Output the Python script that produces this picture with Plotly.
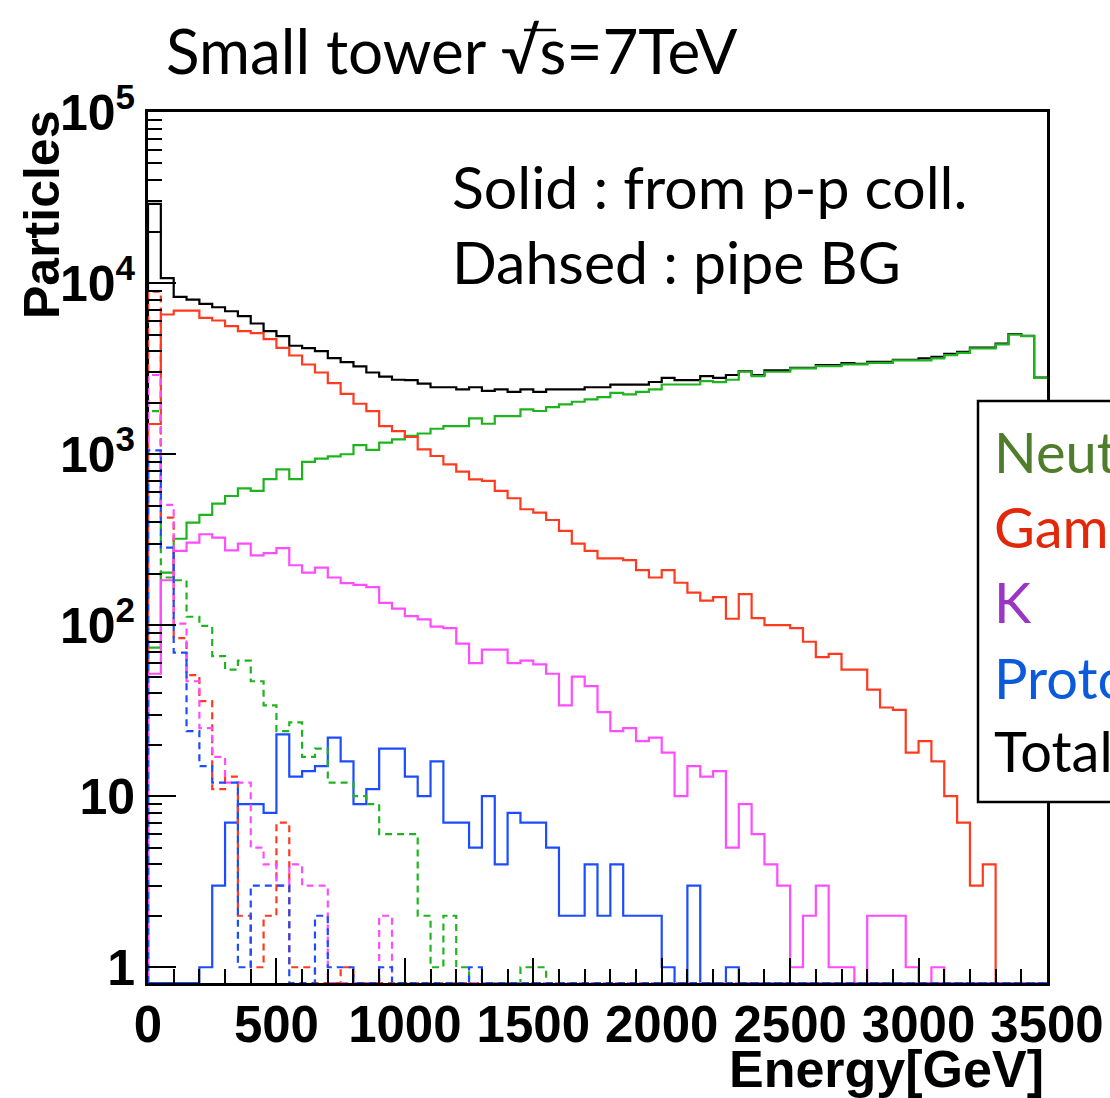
import plotly.graph_objects as go

# ---------------- data (bins of 50 GeV, 0-3500 GeV) ----------------
bin_edges = list(range(0, 3501, 50))

total = [29000, 10700, 8300, 8000, 7550, 7220, 6840, 6400, 5800, 5230,
         4890, 4300, 4170, 4000, 3640, 3450, 3260, 3000, 2840, 2720,
         2710, 2580, 2460, 2460, 2390, 2460, 2340, 2390, 2310, 2390,
         2310, 2390, 2390, 2390, 2460, 2460, 2550, 2550, 2550, 2640,
         2790, 2710, 2710, 2860, 2790, 2900, 3050, 2900, 3085, 3085,
         3190, 3190, 3310, 3310, 3400, 3370, 3460, 3460, 3560, 3560,
         3625, 3700, 3850, 3960, 4200, 4200, 4420, 5030, 4920, 2800]

neutron_pp = [74, 203, 320, 398, 441, 514, 569, 631, 609, 715,
              815, 715, 900, 940, 970, 998, 1130, 1060, 1166, 1220,
              1280, 1320, 1407, 1459, 1459, 1618, 1505, 1668, 1668, 1825,
              1786, 1884, 1953, 2024, 2089, 2155, 2282, 2232, 2312, 2388,
              2553, 2553, 2553, 2671, 2637, 2720, 3030, 2857, 3030, 3030,
              3168, 3168, 3268, 3268, 3344, 3344, 3418, 3418, 3530, 3530,
              3530, 3625, 3790, 3910, 4150, 4150, 4380, 5004, 4895, 2794]

gamma_pp = [1500, 6550, 6900, 6900, 6260, 6040, 5600, 5230, 5100, 4700,
            4180, 3770, 3340, 3000, 2600, 2250, 1970, 1785, 1459, 1364,
            1259, 1066, 975, 872, 789, 712, 697, 609, 552, 476,
            455, 412, 356, 300, 272, 246, 246, 240, 210, 190,
            210, 177, 155, 139, 146, 109, 152, 110, 100, 100,
            96, 80, 65, 68, 55, 55, 42, 33, 32, 18,
            21, 16, 10, 7, 3, 4, 0, 0, 0, 0]

kaon_pp = [52, 183, 272, 304, 340, 325, 274, 300, 256, 264,
           282, 224, 203, 217, 190, 176, 172, 167, 135, 125,
           113, 108, 98, 96, 78, 60, 72, 72, 60, 62,
           59, 52, 34, 50, 44, 31, 24, 25, 21, 22,
           18, 10, 15, 13, 14, 5, 9, 6, 4, 3,
           1, 2, 3, 1, 1, 0, 2, 2, 2, 1,
           0, 1, 0, 0, 0, 0, 0, 0, 0, 0]

proton_pp = [0, 0, 0, 0, 1, 3, 7, 9, 9, 8,
             23, 13, 14, 15, 22, 16, 9, 11, 19, 19,
             13, 10, 16, 7, 7, 5, 10, 4, 8, 7,
             7, 5, 2, 2, 4, 2, 4, 2, 2, 2,
             1, 0, 3, 0, 0, 1, 0, 0, 0, 0,
             0, 0, 0, 0, 0, 0, 0, 0, 0, 0,
             0, 0, 0, 0, 0, 0, 0, 0, 0, 0]

neutron_bg = [1785, 190, 183, 112, 99, 66, 55, 62, 47, 34,
              24, 27, 17, 19, 12, 12, 10, 9, 6, 6,
              6, 2, 1, 2, 1, 0, 0, 0, 0, 1,
              1, 0, 0, 0, 0, 0, 0, 0, 0, 0] + [0] * 30

gamma_bg = [8900, 425, 84, 51, 36, 11, 13, 2, 1, 2,
            7, 1, 1, 0, 0, 1, 0, 0, 0, 0] + [0] * 50

kaon_bg = [2900, 505, 102, 47, 25, 17, 12, 12, 5, 4,
           3, 4, 3, 3, 0, 0, 0, 0, 2, 0] + [0] * 50

proton_bg = [1052, 284, 69, 24, 15, 12, 12, 1, 3, 3,
             3, 0, 0, 2, 1, 1, 0, 0, 1, 0,
             0, 0, 0, 0, 0, 1, 0, 0, 0, 0] + [0] * 40

x_tick_vals = [0, 500, 1000, 1500, 2000, 2500, 3000, 3500]
x_tick_text = ["0", "500", "1000", "1500", "2000", "2500", "3000", "3500"]
y_tick_vals = [1, 10, 100, 1000, 10000, 100000]
y_tick_text = ["1", "10", "10<sup>2</sup>", "10<sup>3</sup>", "10<sup>4</sup>", "10<sup>5</sup>"]

legend_labels = ["Neutron", "Gamma", "K", "Proton", "Total"]
legend_colors = ["#4f7d2c", "#e2280a", "#9a35c4", "#0a5bdc", "#000000"]

# ---------------- styling ----------------
YMIN, YMAX = -0.092, 5.0
FLOOR = 10 ** YMIN
W, H = 1110, 1098
ML, MR, MT, MB = 148, 63, 112, 115

C_BLACK = "#000000"
C_GREEN = "#1fb41f"
C_RED = "#ff3a1e"
C_MAG = "#ff4cff"
C_BLUE = "#1c4cff"


def step_xy(vals):
    ys = [v if v > 0 else FLOOR for v in vals]
    xs = [bin_edges[0]] + bin_edges[:-1] + [bin_edges[-1]]
    ys = [FLOOR] + ys + [ys[-1]]
    return xs, ys


fig = go.Figure()


def add_hist(vals, color, dash="solid"):
    xs, ys = step_xy(vals)
    fig.add_trace(go.Scatter(x=xs, y=ys, mode="lines", line_shape="hv",
                             line=dict(color=color, width=2.2, dash=dash),
                             hoverinfo="skip", showlegend=False))


DASH = "7px,5px"
add_hist(total, C_BLACK)
add_hist(neutron_pp, C_GREEN)
add_hist(gamma_pp, C_RED)
add_hist(kaon_pp, C_MAG)
add_hist(proton_pp, C_BLUE)
add_hist(neutron_bg, C_GREEN, DASH)
add_hist(gamma_bg, C_RED, DASH)
add_hist(kaon_bg, C_MAG, DASH)
add_hist(proton_bg, C_BLUE, DASH)

minor_y = [m * 10 ** d for d in range(0, 5) for m in range(2, 10)]

fig.update_layout(
    width=W, height=H,
    margin=dict(l=ML, r=MR, t=MT, b=MB, autoexpand=False),
    plot_bgcolor="white", paper_bgcolor="white",
    showlegend=False,
)
fig.update_xaxes(
    range=[0, 3500], tickmode="array", tickvals=x_tick_vals, ticktext=x_tick_text,
    ticks="inside", ticklen=25, tickwidth=2, tickcolor="black",
    showline=True, linewidth=3, linecolor="black", mirror=True,
    showgrid=False, zeroline=False, ticklabelstandoff=-5, automargin=False,
    minor=dict(ticks="inside", ticklen=14, tickwidth=2, tickcolor="black",
               dtick=100, showgrid=False),
    tickfont=dict(family="Liberation Sans", size=51, color="black", weight="bold"),
)
fig.update_yaxes(
    type="log", range=[YMIN, YMAX], tickmode="array",
    tickvals=y_tick_vals, ticktext=y_tick_text,
    ticks="inside", ticklen=28, tickwidth=2, tickcolor="black",
    showline=True, linewidth=3, linecolor="black", mirror=True,
    showgrid=False, zeroline=False, automargin=False,
    minor=dict(ticks="inside", ticklen=14, tickwidth=2, tickcolor="black",
               tickvals=minor_y, showgrid=False),
    tickfont=dict(family="Liberation Sans", size=50, color="black", weight="bold"),
)


def px(x):
    return (x - ML) / (W - ML - MR)


def py(y):
    return (H - MB - y) / (H - MT - MB)


annos = []
annos.append(dict(text="Small tower √s=7TeV", x=px(164), y=py(50), xanchor="left", yanchor="middle",
                  font=dict(family="Lato", size=62, color="black")))
annos.append(dict(text="Solid : from p-p coll.", x=px(450), y=py(186), xanchor="left", yanchor="middle",
                  font=dict(family="Lato", size=59, color="black")))
annos.append(dict(text="Dahsed : pipe BG", x=px(450), y=py(261), xanchor="left", yanchor="middle",
                  font=dict(family="Lato", size=59, color="black")))
annos.append(dict(text="<b>Particles</b>", x=px(42), y=py(215), xanchor="center", yanchor="middle",
                  textangle=-90, font=dict(family="Liberation Sans", size=50, color="black")))
annos.append(dict(text="<b>Energy[GeV]</b>", x=px(1046), y=py(1069), xanchor="right", yanchor="middle",
                  font=dict(family="Liberation Sans", size=52, color="black")))

legend_y = [452, 526, 601, 677, 750]
for lab, col, yy in zip(legend_labels, legend_colors, legend_y):
    annos.append(dict(text=lab, x=px(992), y=py(yy), xanchor="left", yanchor="middle",
                      font=dict(family="Lato", size=56, color=col)))

for a in annos:
    a.update(xref="paper", yref="paper", showarrow=False)
fig.update_layout(annotations=annos)

# overbar of the square root in the title
fig.add_shape(type="line", xref="paper", yref="paper",
              x0=px(524), x1=px(556), y0=py(30), y1=py(30),
              line=dict(color="black", width=2.5), layer="above")

fig.add_shape(type="rect", xref="paper", yref="paper",
              x0=px(978), x1=px(1140), y0=py(802), y1=py(401),
              line=dict(color="black", width=2.5), fillcolor="white", layer="above")

fig.write_html("out.html")
